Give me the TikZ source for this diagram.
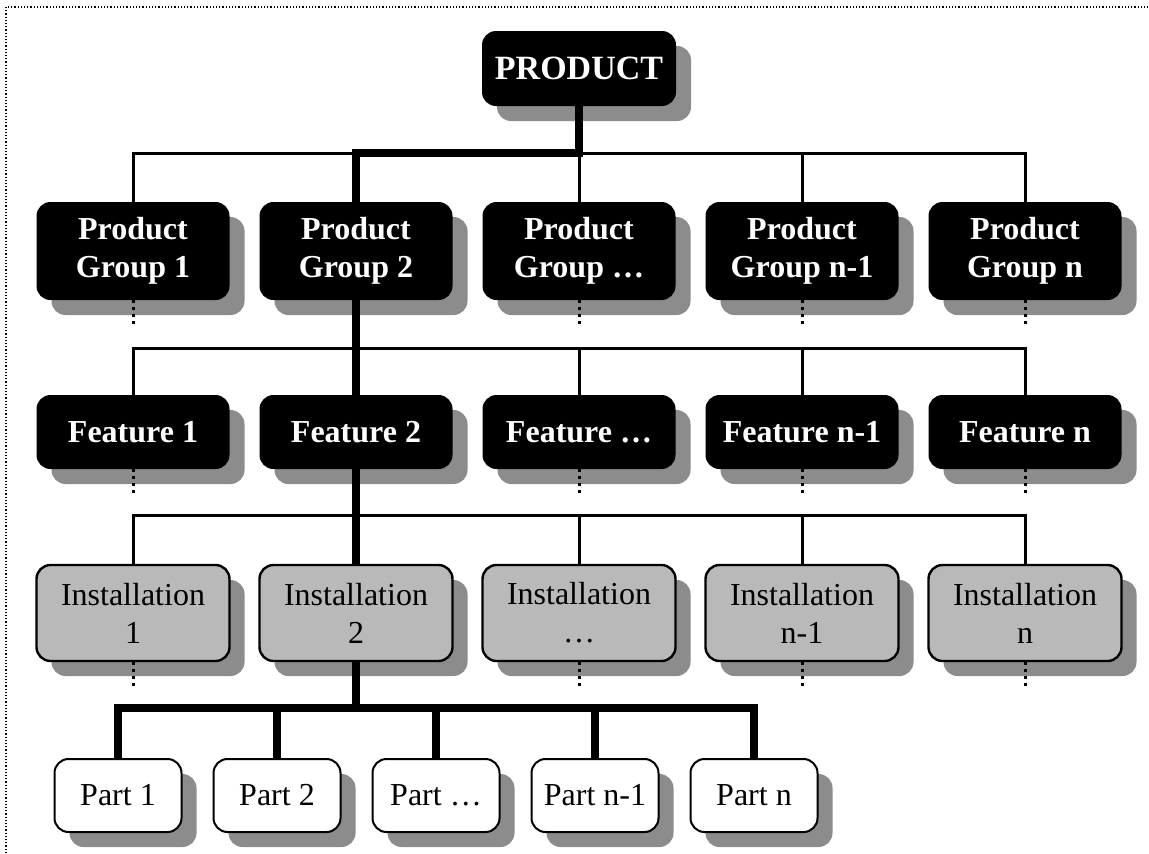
\documentclass[tikz,border=0pt]{standalone}
\usepackage{fontspec}
\setmainfont{Liberation Serif}
\usetikzlibrary{shadows}

\begin{document}
\begin{tikzpicture}[x=0.5pt,y=-0.5pt,
  shade/.style={drop shadow={shadow xshift=7.5pt,shadow yshift=-7.5pt,opacity=1,fill=black!45}},
  darkbox/.style={shade,rounded corners=7pt,fill=black,text=white,font=\bfseries\fontsize{16}{19}\selectfont,align=center,inner sep=0pt,minimum width=96.5pt},
  instbox/.style={shade,rounded corners=7pt,draw=black,line width=1.2pt,fill=gray!55,font=\fontsize{16}{19}\selectfont,align=center,inner sep=0pt,minimum width=96.5pt,minimum height=48pt},
  partbox/.style={shade,rounded corners=7pt,draw=black,line width=1pt,fill=white,font=\fontsize{16}{19}\selectfont,inner sep=0pt,minimum width=63.5pt,minimum height=36.5pt},
  thinline/.style={line width=1.5pt},
  thickline/.style={line width=4pt},
  stub/.style={line width=1.5pt,dash pattern=on 1.5pt off 2pt}]
\useasboundingbox (0,0) rectangle (1149,853);
\draw[line width=1pt,dash pattern=on 0.6pt off 1pt] (6,853) -- (6,7) -- (1149,7);
\node[darkbox,minimum width=97pt,minimum height=37.5pt,font=\bfseries\fontsize{17}{20}\selectfont] (prod) at (579,68.5) {PRODUCT};
\node[darkbox,minimum height=49pt] (g1) at (133,251) {Product\\Group 1};
\node[darkbox,minimum height=49pt] (g2) at (356,251) {Product\\Group 2};
\node[darkbox,minimum height=49pt] (g3) at (579,251) {Product\\Group \dots};
\node[darkbox,minimum height=49pt] (g4) at (802,251) {Product\\Group n-1};
\node[darkbox,minimum height=49pt] (g5) at (1025,251) {Product\\Group n};
\node[darkbox,minimum height=37pt] (f1) at (133,432) {Feature 1};
\node[darkbox,minimum height=37pt] (f2) at (356,432) {Feature 2};
\node[darkbox,minimum height=37pt] (f3) at (579,432) {Feature \dots};
\node[darkbox,minimum height=37pt] (f4) at (802,432) {Feature n-1};
\node[darkbox,minimum height=37pt] (f5) at (1025,432) {Feature n};
\node[instbox] (i1) at (133,613) {Installation\\1};
\node[instbox] (i2) at (356,613) {Installation\\2};
\node[instbox] (i3) at (579,613) {Installation\\\dots};
\node[instbox] (i4) at (802,613) {Installation\\n-1};
\node[instbox] (i5) at (1025,613) {Installation\\n};
\node[partbox] (p1) at (118,795.5) {Part 1};
\node[partbox] (p2) at (277,795.5) {Part 2};
\node[partbox] (p3) at (436,795.5) {Part \dots};
\node[partbox] (p4) at (595,795.5) {Part n-1};
\node[partbox] (p5) at (754,795.5) {Part n};
\coordinate (b1) at (579,153);
\coordinate (b2) at (579,348);
\coordinate (b3) at (579,515);
\coordinate (b4) at (436,708);
\draw[thinline] (g1.north) |- (b1) -| (g5.north);
\draw[thinline] (g3.north) -- (g3.north |- b1);
\draw[thinline] (g4.north) -- (g4.north |- b1);
\draw[thickline] (prod.south) |- (g2.north |- b1) -- (g2.north);
\draw[thinline] (f1.north) |- (b2) -| (f5.north);
\draw[thinline] (f3.north) -- (f3.north |- b2);
\draw[thinline] (f4.north) -- (f4.north |- b2);
\draw[thickline] (g2.south) -- (f2.north);
\draw[thinline] (i1.north) |- (b3) -| (i5.north);
\draw[thinline] (i3.north) -- (i3.north |- b3);
\draw[thinline] (i4.north) -- (i4.north |- b3);
\draw[thickline] (f2.south) -- (i2.north);
\draw[thickline] (i2.south) -- (i2.south |- b4);
\draw[thickline] (p1.north) |- (b4) -| (p5.north);
\draw[thickline] (p2.north) -- (p2.north |- b4);
\draw[thickline] (p3.north) -- (p3.north |- b4);
\draw[thickline] (p4.north) -- (p4.north |- b4);
\draw[stub] (g1.south) -- ++(0,28);
\draw[stub] (g3.south) -- ++(0,28);
\draw[stub] (g4.south) -- ++(0,28);
\draw[stub] (g5.south) -- ++(0,28);
\draw[stub] (f1.south) -- ++(0,28);
\draw[stub] (f3.south) -- ++(0,28);
\draw[stub] (f4.south) -- ++(0,28);
\draw[stub] (f5.south) -- ++(0,28);
\draw[stub] (i1.south) -- ++(0,28);
\draw[stub] (i3.south) -- ++(0,28);
\draw[stub] (i4.south) -- ++(0,28);
\draw[stub] (i5.south) -- ++(0,28);
\end{tikzpicture}
\end{document}
